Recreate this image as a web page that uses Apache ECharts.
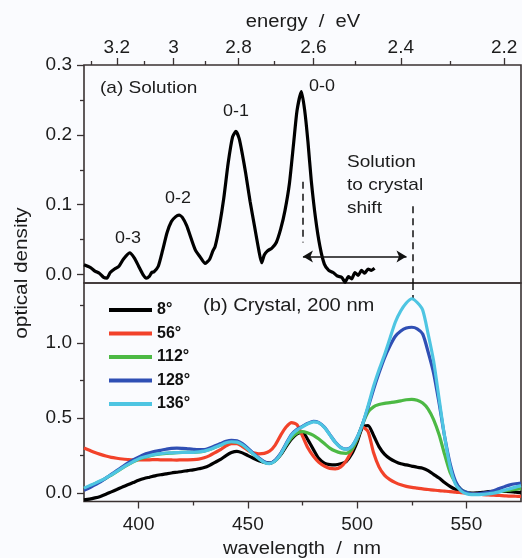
<!DOCTYPE html>
<html>
<head>
<meta charset="utf-8">
<script src="https://cdn.jsdelivr.net/npm/echarts@6/dist/echarts.min.js"></script>
<style>
  html, body { margin: 0; padding: 0; background: #fafbfe; }
  #c { width: 522px; height: 558px; }
</style>
</head>
<body>
<div id="c"></div>
<script>
// ---- (a) solution spectrum ----
const solWl = [375, 378, 380, 382, 384, 385.5, 387, 389, 391, 393, 395.9, 398, 400, 402, 403.5, 405, 406, 407, 409, 411, 413, 415, 417, 418.5, 420, 422, 424, 426, 428, 430.5, 432.5, 434, 435, 437, 439, 441, 443, 444.5, 446, 447.5, 449, 451, 453, 455, 456.3, 457.5, 459, 461, 463, 465, 467, 469, 471, 472.5, 474.5, 476, 477.5, 479, 481, 483, 485, 487, 489, 491, 493, 494.5, 496, 497.5, 499, 500.5, 502, 503.5, 505, 506.5, 508];
const solOd = [0.014, 0.010, 0.005, 0.002, -0.004, -0.005, 0.003, 0.008, 0.012, 0.022, 0.031, 0.024, 0.012, 0.000, -0.005, -0.002, 0.003, 0.004, 0.012, 0.035, 0.060, 0.076, 0.083, 0.085, 0.082, 0.070, 0.052, 0.035, 0.026, 0.016, 0.022, 0.034, 0.040, 0.070, 0.110, 0.160, 0.197, 0.205, 0.195, 0.172, 0.145, 0.105, 0.070, 0.035, 0.017, 0.028, 0.034, 0.038, 0.046, 0.065, 0.092, 0.130, 0.190, 0.235, 0.262, 0.235, 0.190, 0.135, 0.080, 0.040, 0.015, 0.006, 0.003, -0.002, -0.004, -0.011, -0.003, -0.006, 0.003, -0.001, 0.006, 0.002, 0.008, 0.006, 0.009];

// ---- (b) crystal spectra, common wavelength grid ----
const crysWl = [];
for (let w = 375; w <= 575; w += 2.5) crysWl.push(w);

const od8 = [-0.045, -0.040, -0.032, -0.022, -0.008, 0.008, 0.024, 0.040, 0.055, 0.070, 0.085, 0.097, 0.106, 0.115, 0.122, 0.128, 0.134, 0.139, 0.144, 0.150, 0.155, 0.162, 0.170, 0.185, 0.205, 0.225, 0.250, 0.270, 0.278, 0.268, 0.250, 0.232, 0.215, 0.205, 0.200, 0.215, 0.255, 0.310, 0.360, 0.395, 0.405, 0.355, 0.290, 0.230, 0.200, 0.190, 0.188, 0.195, 0.210, 0.260, 0.340, 0.440, 0.450, 0.385, 0.310, 0.260, 0.230, 0.210, 0.195, 0.188, 0.180, 0.172, 0.166, 0.150, 0.125, 0.100, 0.070, 0.045, 0.025, 0.010, 0.003, 0.000, 0.002, 0.005, 0.010, 0.012, 0.012, 0.011, 0.010, 0.006, 0.003];
const od56 = [0.300, 0.285, 0.270, 0.258, 0.247, 0.238, 0.232, 0.227, 0.224, 0.222, 0.222, 0.222, 0.222, 0.223, 0.222, 0.222, 0.221, 0.220, 0.222, 0.222, 0.223, 0.226, 0.235, 0.250, 0.270, 0.290, 0.315, 0.330, 0.330, 0.310, 0.285, 0.268, 0.262, 0.265, 0.280, 0.320, 0.385, 0.440, 0.470, 0.455, 0.380, 0.300, 0.245, 0.205, 0.180, 0.165, 0.162, 0.175, 0.215, 0.280, 0.360, 0.440, 0.410, 0.270, 0.175, 0.120, 0.090, 0.070, 0.055, 0.045, 0.038, 0.033, 0.028, 0.024, 0.020, 0.016, 0.013, 0.010, 0.006, 0.003, 0.000, -0.003, -0.006, -0.010, -0.012, -0.014, -0.016, -0.018, -0.020, -0.021, -0.022];
const od112 = [0.028, 0.045, 0.062, 0.080, 0.098, 0.120, 0.143, 0.166, 0.188, 0.208, 0.226, 0.238, 0.248, 0.256, 0.261, 0.265, 0.267, 0.269, 0.271, 0.271, 0.271, 0.274, 0.280, 0.290, 0.305, 0.320, 0.335, 0.342, 0.340, 0.322, 0.293, 0.260, 0.230, 0.205, 0.198, 0.215, 0.260, 0.320, 0.370, 0.400, 0.410, 0.400, 0.385, 0.360, 0.330, 0.300, 0.280, 0.268, 0.265, 0.290, 0.360, 0.460, 0.540, 0.575, 0.590, 0.598, 0.603, 0.608, 0.615, 0.622, 0.625, 0.618, 0.600, 0.560, 0.490, 0.390, 0.260, 0.140, 0.070, 0.025, 0.005, -0.005, -0.008, -0.005, 0.000, 0.005, 0.010, 0.015, 0.020, 0.025, 0.030];
const od128 = [0.018, 0.035, 0.055, 0.075, 0.100, 0.125, 0.150, 0.175, 0.200, 0.222, 0.240, 0.257, 0.268, 0.278, 0.285, 0.292, 0.298, 0.300, 0.298, 0.295, 0.292, 0.290, 0.290, 0.300, 0.315, 0.330, 0.345, 0.352, 0.348, 0.330, 0.300, 0.265, 0.235, 0.210, 0.200, 0.220, 0.265, 0.330, 0.390, 0.425, 0.445, 0.465, 0.478, 0.470, 0.440, 0.390, 0.340, 0.305, 0.293, 0.310, 0.370, 0.460, 0.570, 0.690, 0.800, 0.900, 0.980, 1.045, 1.080, 1.100, 1.105, 1.095, 1.060, 0.940, 0.800, 0.600, 0.380, 0.200, 0.080, 0.025, 0.005, -0.005, -0.005, 0.000, 0.005, 0.015, 0.030, 0.043, 0.055, 0.062, 0.067];
const od136 = [0.033, 0.050, 0.065, 0.082, 0.100, 0.122, 0.145, 0.168, 0.190, 0.210, 0.228, 0.240, 0.250, 0.258, 0.263, 0.267, 0.268, 0.270, 0.272, 0.272, 0.272, 0.275, 0.280, 0.290, 0.305, 0.320, 0.335, 0.342, 0.340, 0.322, 0.293, 0.260, 0.230, 0.205, 0.196, 0.215, 0.260, 0.325, 0.385, 0.420, 0.442, 0.462, 0.475, 0.468, 0.438, 0.388, 0.338, 0.303, 0.292, 0.310, 0.370, 0.460, 0.580, 0.710, 0.820, 0.920, 1.030, 1.140, 1.215, 1.267, 1.295, 1.270, 1.220, 1.060, 0.880, 0.630, 0.380, 0.180, 0.060, 0.015, -0.005, -0.010, -0.010, -0.008, -0.005, 0.000, 0.008, 0.020, 0.030, 0.040, 0.050];

const crysNames  = ['8°', '56°', '112°', '128°', '136°'];
const crysColors = ['#000000', '#f2422a', '#4cb944', '#2f4fb4', '#4ec5e2'];
const crysData   = [od8, od56, od112, od128, od136];

// ---- axis ticks ----
const HC = 1248; // eV·nm conversion for the energy scale
const energyMajor = [3.2, 3.0, 2.8, 2.6, 2.4, 2.2];
const energyLabels = ['3.2', '3', '2.8', '2.6', '2.4', '2.2'];
const energyMinor = [3.3, 3.1, 2.9, 2.7, 2.5, 2.3];
const wlMajor = [400, 450, 500, 550];
const wlMinor = [425, 475, 525];
const solYMajor = [0, 0.1, 0.2, 0.3];
const solYMinor = [0.05, 0.15, 0.25];
const crysYMajor = [0, 0.5, 1.0];
const crysYMinor = [0.25, 0.75, 1.25];

// annotation positions in data units (nm, optical density)
const solPeakWl = 475.2;
const crysPeakWl = 525.3;

const FONT = "'Liberation Sans', Arial, Helvetica, sans-serif";
const AX = '#3a3232';
const TXT = '#1c1c1c';
const SOL_Y = [-0.012, 0.3];
const CRYS_Y = [-0.056, 1.4];
const TEXT_SX = 1.12; // the lettering runs slightly wide

const toNm = e => HC / e;
const pair = (xs, ys) => xs.map((x, i) => [x, ys[i]]);

function xAx(grid, pos, ticks, len, labels) {
  return {
    gridIndex: grid, type: 'value', min: 375, max: 575, position: pos,
    axisLine: { show: false, onZero: false },
    axisTick: { show: !!ticks, inside: false, length: len, customValues: ticks || [], lineStyle: { color: AX, width: 1.3 } },
    axisLabel: labels ? Object.assign({ color: TXT, fontFamily: FONT, fontSize: 19 }, labels) : { show: false },
    splitLine: { show: false }
  };
}
function yAx(grid, range, ticks, len, labels) {
  return {
    gridIndex: grid, type: 'value', min: range[0], max: range[1], position: 'left',
    axisLine: { show: false, onZero: false },
    axisTick: { show: !!ticks, inside: false, length: len, customValues: ticks || [], lineStyle: { color: AX, width: 1.3 } },
    axisLabel: labels ? Object.assign({ color: TXT, fontFamily: FONT, fontSize: 19, margin: 12 }, labels) : { show: false },
    splitLine: { show: false }
  };
}

const chart = echarts.init(document.getElementById('c'), null, { renderer: 'canvas' });

const series = [];
series.push({
  name: 'solution', type: 'line', xAxisIndex: 0, yAxisIndex: 0,
  data: pair(solWl, solOd), showSymbol: false, smooth: 0.2,
  lineStyle: { color: '#000', width: 3.2 }, silent: true, z: 3,
  markLine: {
    silent: true, animation: false, label: { show: false },
    symbol: ['none', 'none'], symbolSize: [9, 10],
    lineStyle: { color: '#111', width: 1.5, type: [7, 5] },
    data: [
      [{ coord: [solPeakWl, 0.133] }, { coord: [solPeakWl, 0.046] }],
      [{ coord: [crysPeakWl, 0.098] }, { coord: [crysPeakWl, SOL_Y[0]] }],
      [{ coord: [solPeakWl, 0.026], symbol: 'arrow', lineStyle: { type: 'solid', width: 1.5 } },
       { coord: [522.6, 0.026], symbol: 'arrow', lineStyle: { type: 'solid', width: 1.5 } }]
    ]
  }
});
crysData.forEach((d, i) => {
  const s = {
    name: crysNames[i], type: 'line', xAxisIndex: 2, yAxisIndex: 2,
    data: pair(crysWl, d), showSymbol: false, smooth: 0.25,
    lineStyle: { color: crysColors[i], width: 3.2 }, itemStyle: { color: crysColors[i] },
    silent: true, z: 3 + i
  };
  if (i === crysData.length - 1) {
    s.markLine = {
      silent: true, animation: false, label: { show: false }, symbol: ['none', 'none'],
      lineStyle: { color: '#111', width: 1.5, type: [7, 5] },
      data: [[{ coord: [crysPeakWl, CRYS_Y[1]] }, { coord: [crysPeakWl, 1.3] }]]
    };
  }
  series.push(s);
});

const txt = (x, y, text, size, extra, rot) => ({
  type: 'text', x: x, y: y, silent: true, z: 100, scaleX: TEXT_SX, rotation: rot || 0,
  style: Object.assign({ text: text, fill: TXT, font: size + 'px ' + FONT, align: 'center', verticalAlign: 'middle' }, extra || {})
});

const topBox = { left: 84, top: 65, width: 437, height: 218 };
const botBox = { left: 84, top: 283, width: 437, height: 218.5 };

chart.setOption({
  animation: false,
  backgroundColor: '#fafbfe',
  grid: [
    Object.assign({ show: true, borderColor: AX, borderWidth: 1.6, backgroundColor: 'transparent' }, topBox),
    Object.assign({ show: false }, topBox),   // minor ticks of panel (a)
    Object.assign({ show: true, borderColor: AX, borderWidth: 1.6, backgroundColor: 'transparent' }, botBox),
    Object.assign({ show: false }, botBox)    // minor ticks of panel (b)
  ],
  xAxis: [
    // 0: panel (a) data axis, 1: energy scale on top
    xAx(0, 'bottom', null, 0, null),
    xAx(0, 'top', energyMajor.map(toNm), 7, {
      customValues: energyMajor.map(toNm), margin: 8,
      formatter: v => {
        let best = 0;
        energyMajor.forEach((e, i) => { if (Math.abs(toNm(e) - v) < Math.abs(toNm(energyMajor[best]) - v)) best = i; });
        return energyLabels[best];
      }
    }),
    // 2: panel (b) wavelength axis
    xAx(2, 'bottom', wlMajor, 7, { customValues: wlMajor, margin: 14 }),
    // 3, 4: minor ticks
    xAx(1, 'top', energyMinor.map(toNm), 4, null),
    xAx(3, 'bottom', wlMinor, 4, null)
  ],
  yAxis: [
    yAx(0, SOL_Y, solYMajor, 7, { customValues: solYMajor, formatter: v => v.toFixed(1) }),
    yAx(1, SOL_Y, solYMinor, 4, null),
    yAx(2, CRYS_Y, crysYMajor, 7, { customValues: crysYMajor, formatter: v => v.toFixed(1) }),
    yAx(3, CRYS_Y, crysYMinor, 4, null)
  ],
  legend: {
    data: crysNames, orient: 'vertical', left: 104, top: 297,
    icon: 'rect', itemWidth: 43, itemHeight: 4, itemGap: 7.5,
    textStyle: { fontFamily: FONT, fontWeight: 'bold', fontSize: 16, color: '#111', lineHeight: 16 },
    selectedMode: false
  },
  series: series,
  graphic: [
    txt(303, 22, 'energy  /  eV', 18),
    txt(302, 549, 'wavelength  /  nm', 18),
    txt(22, 273, 'optical density', 18.5, {}, Math.PI / 2),
    txt(100, 88, '(a) Solution', 17, { align: 'left' }),
    txt(322, 87, '0-0', 16),
    txt(236, 112, '0-1', 16),
    txt(178, 199, '0-2', 16),
    txt(128, 239, '0-3', 16),
    txt(347, 162, 'Solution', 17, { align: 'left' }),
    txt(347, 185, 'to crystal', 17, { align: 'left' }),
    txt(347, 208, 'shift', 17, { align: 'left' }),
    txt(203, 306, '(b) Crystal, 200 nm', 18, { align: 'left' })
  ]
});
</script>
</body>
</html>
